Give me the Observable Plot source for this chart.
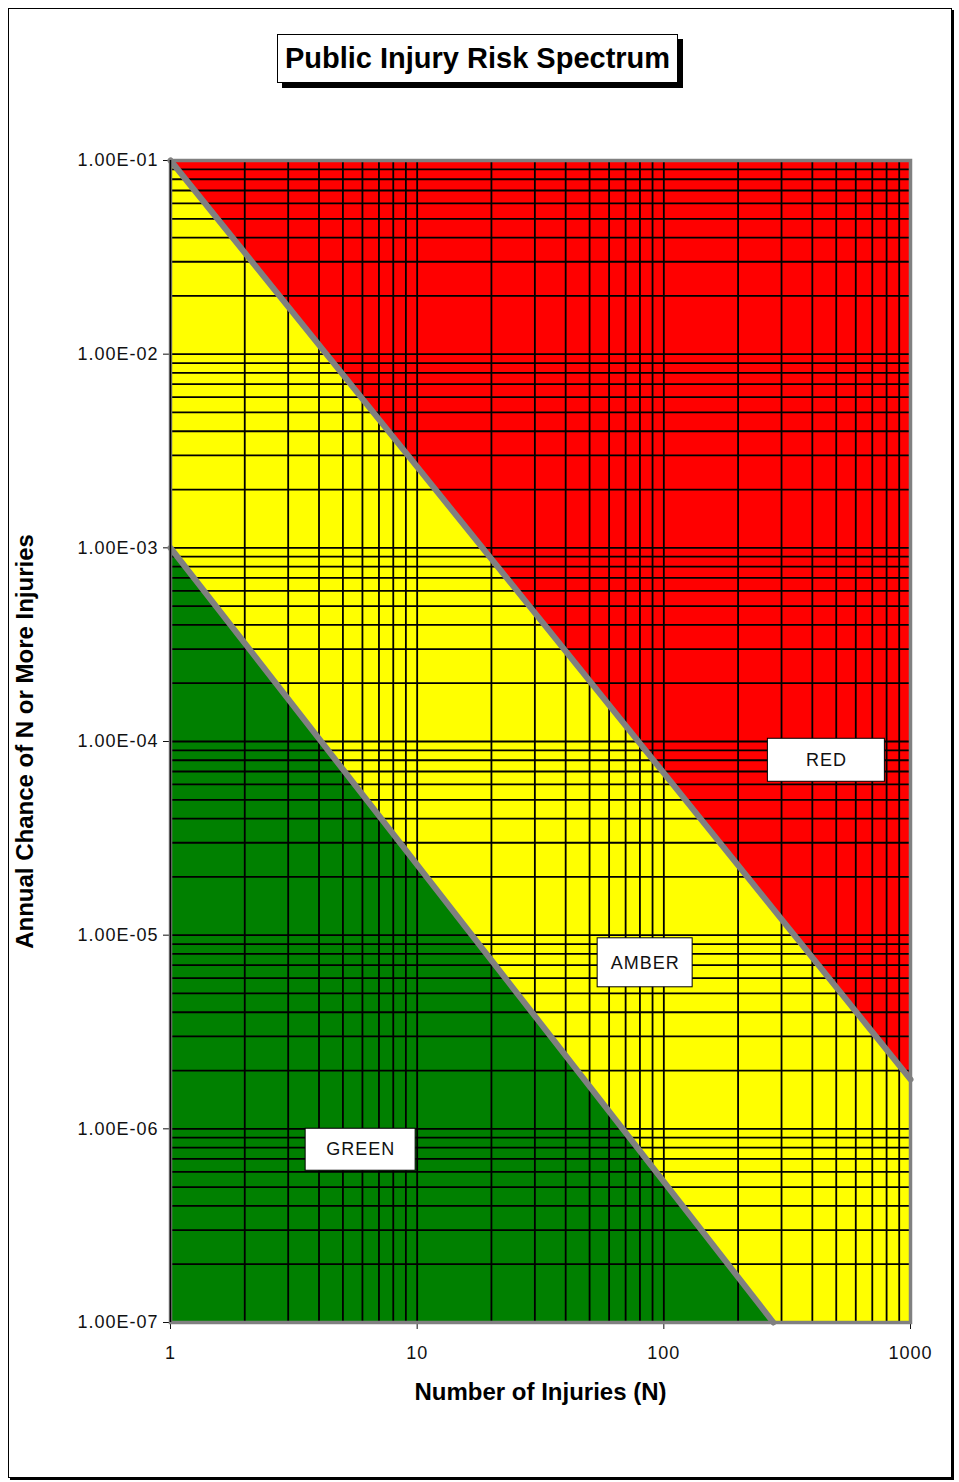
<!DOCTYPE html>
<html><head><meta charset="utf-8">
<script src="https://cdn.jsdelivr.net/npm/d3@7"></script>
<script src="https://cdn.jsdelivr.net/npm/@observablehq/plot@0.6"></script>
<style>
html,body{margin:0;padding:0;background:#fff;}
#page{position:relative;width:959px;height:1482px;overflow:hidden;font-family:"Liberation Sans",Arial,sans-serif;}
#frame{position:absolute;left:8px;top:8px;width:942px;height:1468px;border:1px solid #000;box-shadow:2px 2px 0 #000;}
#title{position:absolute;left:277px;top:34px;width:399px;height:47px;border:1px solid #000;box-shadow:5px 5px 0 #000;background:#fff;font-weight:bold;font-size:29px;line-height:46px;text-align:center;white-space:nowrap;color:#000;}
#chart{position:absolute;left:0;top:110px;}
</style></head>
<body><div id="page"><div id="frame"></div><div id="title">Public Injury Risk Spectrum</div><div id="chart"></div></div>
<script>
// ---- data ----
const nTicks = [1, 10, 100, 1000];
const fTicks = [1e-1, 1e-2, 1e-3, 1e-4, 1e-5, 1e-6, 1e-7];
const upperN = [1, 1000];          // red / amber boundary
const upperF = [1e-1, 1.8e-6];
const lowerN = [1, 278];           // amber / green boundary
const lowerF = [1e-3, 1e-7];
const zoneNames = ["RED", "AMBER", "GREEN"];
const zoneN = [456, 84, 5.9];
const zoneF = [8.0e-5, 7.2e-6, 7.8e-7];
const xTitle = "Number of Injuries (N)";
const yTitle = "Annual Chance of N or More Injuries";

// ---- styles ----
const zoneBox = {RED: [117, 43], AMBER: [95, 49], GREEN: [110, 42]};
const xDomain = [1, 1000];
const yDomain = [1e-7, 1e-1];

const upper = upperN.map((n, i) => ({N: n, F: upperF[i]}));
const lower = lowerN.map((n, i) => ({N: n, F: lowerF[i]}));
const zones = zoneNames.map((name, i) => ({name, N: zoneN[i], F: zoneF[i]}));
const gridN = d3.scaleLog().domain(xDomain).ticks();
const gridF = d3.scaleLog().domain(yDomain).ticks();

const sci = d => {
  const [m, e] = d.toExponential(2).split("e");
  const n = +e;
  return m + "E" + (n < 0 ? "-" : "+") + String(Math.abs(n)).padStart(2, "0");
};

const plot = Plot.plot({
  width: 959, height: 1310,
  marginLeft: 170, marginRight: 49, marginTop: 50, marginBottom: 98,
  style: {fontFamily: '"Liberation Sans", Arial, sans-serif', fontSize: "18px", color: "#111",
          background: "transparent", overflow: "visible", letterSpacing: "1px"},
  x: {type: "log", domain: xDomain, ticks: nTicks, tickFormat: d => String(d), tickSize: 7, tickPadding: 17, label: null},
  y: {type: "log", domain: yDomain, ticks: fTicks, tickFormat: sci, tickSize: 7, tickPadding: 5, label: null},
  marks: [
    Plot.frame({fill: "#ffff00"}),
    Plot.areaY(upper, {x: "N", y1: "F", y2: () => yDomain[1], fill: "#ff0000"}),
    Plot.areaY(lower, {x: "N", y1: () => yDomain[0], y2: "F", fill: "#008000"}),
    Plot.ruleX(gridN, {stroke: "#000", strokeWidth: 1.8}),
    Plot.ruleY(gridF, {stroke: "#000", strokeWidth: 1.8}),
    Plot.line(upper, {x: "N", y: "F", stroke: "#808080", strokeWidth: 6}),
    Plot.line(lower, {x: "N", y: "F", stroke: "#808080", strokeWidth: 6}),
    Plot.frame({stroke: "#808080", strokeWidth: 3.5}),
    Plot.ruleX([1], {stroke: "#000", strokeWidth: 1.5}),
    Plot.text(zones, {x: "N", y: "F", text: "name", fontSize: 18, fill: "#111"}),
    Plot.text([xTitle], {text: d => d, frameAnchor: "bottom", dy: 70, textAnchor: "middle", lineAnchor: "middle",
                         fontWeight: "bold", fontSize: 24, fill: "#000"}),
    Plot.text([yTitle], {text: d => d, frameAnchor: "left", dx: -145, rotate: -90, textAnchor: "middle", lineAnchor: "middle",
                         fontWeight: "bold", fontSize: 24, fill: "#000"})
  ]
});

document.getElementById("chart").append(plot);

// white label boxes behind zone names
const sx = plot.scale("x"), sy = plot.scale("y");
const texts = Array.from(plot.querySelectorAll("text"));
texts.filter(t => t.textContent === xTitle || t.textContent === yTitle)
     .forEach(t => t.style.letterSpacing = "0px");
const zoneText = texts.find(t => t.textContent === "RED");
if (zoneText) {
  let group = zoneText.parentNode;
  while (group.parentNode && group.parentNode !== plot) group = group.parentNode;
  const ns = "http://www.w3.org/2000/svg";
  const bg = document.createElementNS(ns, "g");
  zones.forEach(z => {
    const cx = sx.apply(z.N), cy = sy.apply(z.F);
    const [w, h] = zoneBox[z.name];
    const r = document.createElementNS(ns, "rect");
    r.setAttribute("x", cx - w / 2);
    r.setAttribute("y", cy - h / 2);
    r.setAttribute("width", w);
    r.setAttribute("height", h);
    r.setAttribute("fill", "#fff");
    r.setAttribute("stroke", "#000");
    r.setAttribute("stroke-width", 1);
    bg.appendChild(r);
  });
  plot.insertBefore(bg, group);
}
</script>
</body></html>
